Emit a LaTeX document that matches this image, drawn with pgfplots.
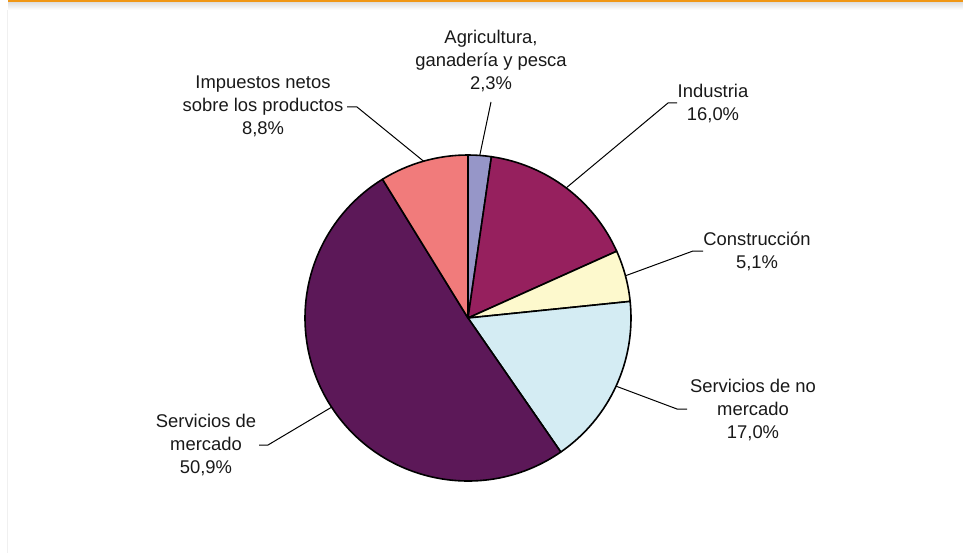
\documentclass[border=0pt]{standalone}
\usepackage{pgfplots}
\pgfplotsset{compat=1.18}
\usepackage{pgfplotstable}
\usepackage{fontspec}
\setmainfont{Liberation Sans}
\definecolor{pie0}{RGB}{150,150,200}
\definecolor{pie1}{RGB}{150,32,94}
\definecolor{pie2}{RGB}{253,249,205}
\definecolor{pie3}{RGB}{212,236,243}
\definecolor{pie4}{RGB}{92,24,88}
\definecolor{pie5}{RGB}{241,123,123}
\definecolor{topbar}{RGB}{240,150,20}
\tikzset{lab/.style={font=\fontsize{9.2bp}{11.5bp}\selectfont,align=center,text=black!90,inner sep=0pt},
  lead/.style={line width=0.5bp}}

% shares in %, clockwise from 12 o'clock
\pgfplotstableread[col sep=comma]{
share
2.3
16.0
5.1
17.0
50.9
8.8
}\piedata

% cumulative angles from the table
\xdef\pietotal{0}
\foreach \i in {0,...,5}{%
  \pgfplotstablegetelem{\i}{share}\of\piedata
  \pgfmathsetmacro\pietmp{\pietotal+\pgfplotsretval}\xdef\pietotal{\pietmp}}
\xdef\piecum{0}
\foreach \i in {0,...,5}{%
  \pgfplotstablegetelem{\i}{share}\of\piedata
  \pgfmathsetmacro\pies{\pgfplotsretval}%
  \pgfmathsetmacro\piea{90-360*(\piecum/\pietotal)}%
  \pgfmathsetmacro\pieb{90-360*((\piecum+\pies)/\pietotal)}%
  \pgfmathsetmacro\piem{(\piea+\pieb)/2}%
  \expandafter\xdef\csname pa\i\endcsname{\piea}%
  \expandafter\xdef\csname pb\i\endcsname{\pieb}%
  \expandafter\xdef\csname pm\i\endcsname{\piem}%
  \pgfmathsetmacro\pietmp{\piecum+\pies}\xdef\piecum{\pietmp}}
\def\R{81.5bp}

\begin{document}
\begin{tikzpicture}
\begin{axis}[scale only axis,width=481.5bp,height=276.5bp,
  xmin=0,xmax=963,ymin=0,ymax=553,y dir=reverse,hide axis,clip=false]
  \path (axis cs:0,0) rectangle (axis cs:963,553);
  % frame decoration
  \shade[top color=black!14,bottom color=white] (axis cs:8,1.5) rectangle (axis cs:963,10);
  \fill[topbar] (axis cs:8,0) rectangle (axis cs:963,1.6);
  \fill[black!6] (axis cs:6.5,10) rectangle (axis cs:7.5,553);
  % slices
  \pgfplotsinvokeforeach{0,...,5}{%
    \filldraw[fill=pie#1,draw=black,line width=0.8bp,line join=round]
      (axis cs:468,318) -- ++(\csname pa#1\endcsname:\R)
      arc[start angle=\csname pa#1\endcsname,end angle=\csname pb#1\endcsname,radius=\R] -- cycle;
  }
  % leader lines
  \draw[lead] (axis cs:468,318) ++(\csname pm0\endcsname:\R) -- (axis cs:491,102);
  \draw[lead] (axis cs:468,318) ++(\csname pm1\endcsname:\R) -- (axis cs:668,103) -- (axis cs:677,103);
  \draw[lead] (axis cs:468,318) ++(\csname pm2\endcsname:\R) -- (axis cs:693,251) -- (axis cs:703,251);
  \draw[lead] (axis cs:468,318) ++(\csname pm3\endcsname:\R) -- (axis cs:677,409) -- (axis cs:687,409);
  \draw[lead] (axis cs:468,318) ++(\csname pm4\endcsname:\R) -- (axis cs:268,445) -- (axis cs:259,445);
  \draw[lead] (axis cs:468,318) ++(\csname pm5\endcsname:\R) -- (axis cs:357,107) -- (axis cs:347,107);
  % labels
  \node[lab] at (axis cs:491,61) {Agricultura,\\ganadería y pesca\\2,3\%};
  \node[lab] at (axis cs:713,103.5) {Industria\\16,0\%};
  \node[lab] at (axis cs:757,251) {Construcción\\5,1\%};
  \node[lab] at (axis cs:753,410.5) {Servicios de no\\mercado\\17,0\%};
  \node[lab] at (axis cs:206,445.5) {Servicios de\\mercado\\50,9\%};
  \node[lab] at (axis cs:263,106.5) {Impuestos netos\\sobre los productos\\8,8\%};
\end{axis}
\end{tikzpicture}
\end{document}
